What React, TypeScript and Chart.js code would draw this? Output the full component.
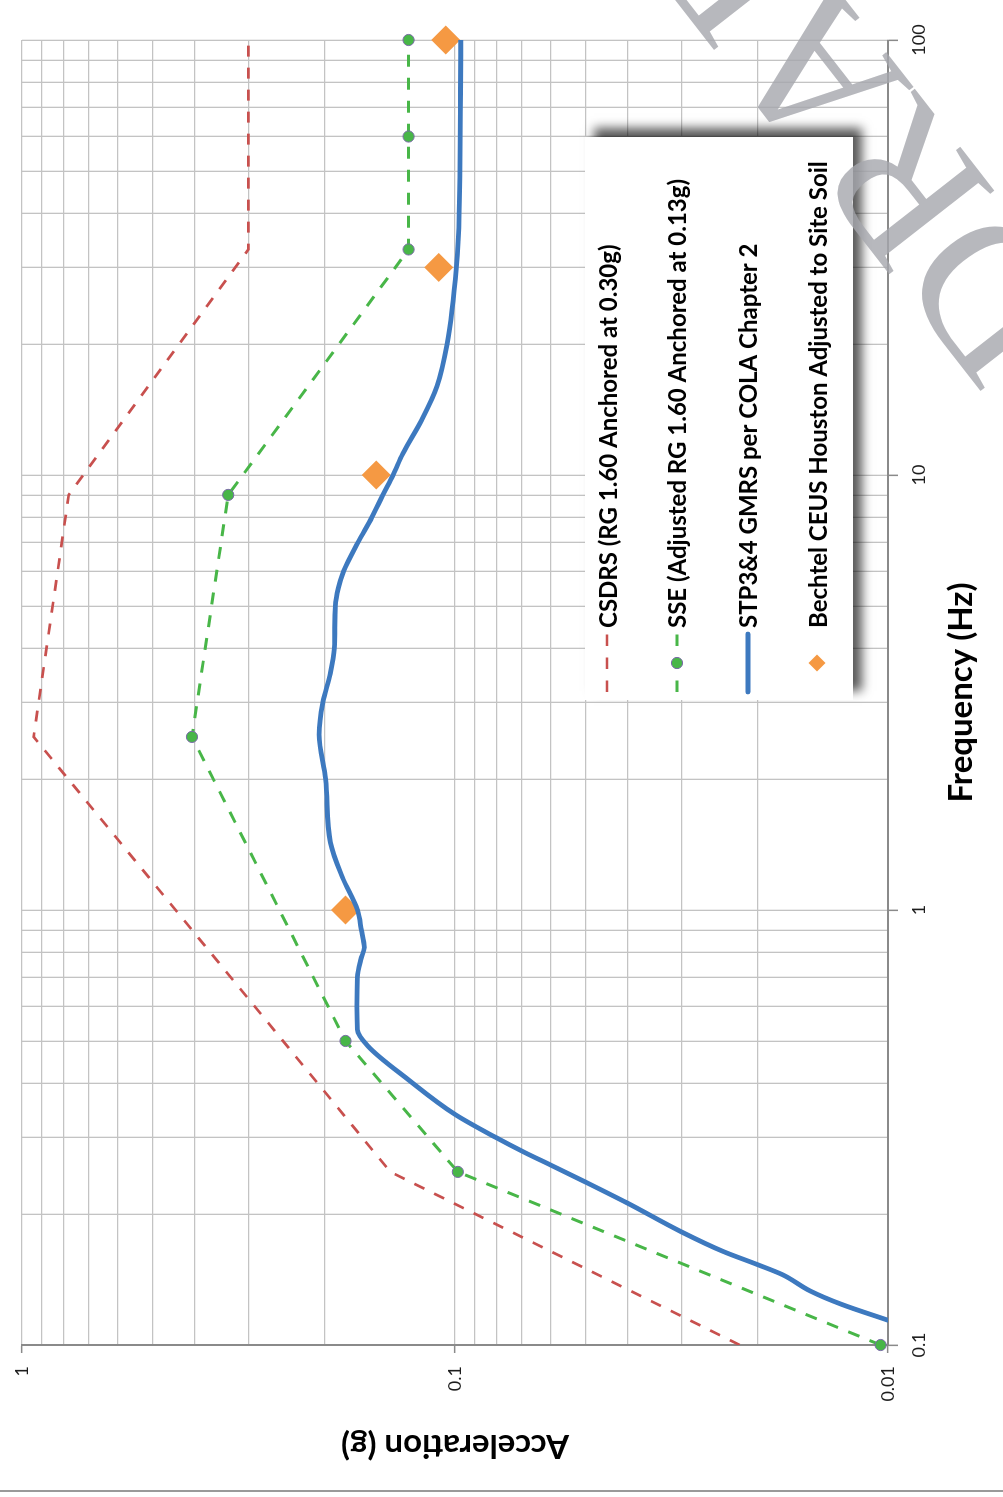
import React, { useEffect, useRef } from "react";
import { Chart, registerables } from "chart.js";

Chart.register(...registerables);

// ---------- data (frequency in Hz, acceleration in g) ----------
const csdrsFreq = [0.1, 0.25, 2.5, 9, 33, 100];
const csdrsAccel = [0.022, 0.141, 0.94, 0.78, 0.3, 0.3];

const sseFreq = [0.1, 0.25, 0.5, 2.5, 9, 33, 60, 100];
const sseAccel = [0.0104, 0.0985, 0.179, 0.405, 0.334, 0.128, 0.128, 0.128];

const gmrsFreq = [
  0.114, 0.124, 0.133, 0.145, 0.153, 0.164, 0.182, 0.212, 0.237, 0.259, 0.277,
  0.3, 0.339, 0.407, 0.487, 0.531, 0.6, 0.7, 0.77, 0.82, 0.9, 1.0, 1.19, 1.43,
  2.0, 2.53, 3.0, 3.5, 4.0, 5.0, 5.5, 6.0, 7.0, 8.0, 9.0, 10, 11.2, 13.4, 16,
  20, 30, 40, 100,
];
const gmrsAccel = [
  0.01, 0.0128, 0.0151, 0.0175, 0.02, 0.024, 0.03, 0.04, 0.05, 0.06, 0.069,
  0.0805, 0.1, 0.128, 0.159, 0.168, 0.1685, 0.168, 0.165, 0.162, 0.1645, 0.168,
  0.182, 0.194, 0.199, 0.206, 0.202, 0.194, 0.19, 0.189, 0.186, 0.181, 0.1675,
  0.1555, 0.1467, 0.139, 0.132, 0.1193, 0.11, 0.1043, 0.0993, 0.0978, 0.097,
];

const bechtelFreq = [1, 10, 30, 100];
const bechtelAccel = [0.179, 0.152, 0.109, 0.105];

const freqTickLabels = ["0.1", "1", "10", "100"];
const accelTickLabels = ["0.01", "0.1", "1"];

const seriesLabels = [
  "CSDRS (RG 1.60 Anchored at 0.30g)",
  "SSE (Adjusted RG 1.60 Anchored at 0.13g)",
  "STP3&4 GMRS per COLA Chapter 2",
  "Bechtel CEUS Houston Adjusted to Site Soil",
];
const xTitle = "Frequency (Hz)";
const yTitle = "Acceleration (g)";
const watermarkText = "DRAFT";

// ---------- helpers ----------
const toPoints = (xs: number[], ys: number[]) => xs.map((x, i) => ({ x, y: ys[i] }));

function logGridTicks(min: number, max: number) {
  const out: { value: number; major: boolean }[] = [];
  const e0 = Math.round(Math.log10(min));
  const e1 = Math.round(Math.log10(max));
  for (let e = e0; e < e1; e++) {
    for (let m = 1; m < 10; m++) {
      out.push({ value: +(m * Math.pow(10, e)).toPrecision(6), major: m === 1 });
    }
  }
  out.push({ value: max, major: true });
  return out;
}

const labelFor = (labels: string[]) => (value: any) => {
  const v = Number(value);
  const hit = labels.find((l) => Math.abs(Math.log10(parseFloat(l)) - Math.log10(v)) < 1e-6);
  return hit ?? "";
};

const FONT = "Lato, 'Open Sans', sans-serif";
const GRID = "#c3c3c3";
const AXIS = "#8a8a8a";

const RED = "#C8504E";
const GREEN = "#48B648";
const GREEN_EDGE = "#7a6aa8";
const BLUE = "#3D79BF";
const ORANGE = "#F59943";

const overlayPlugin = {
  id: "overlay",
  afterDraw(chart: any) {
    const ctx: CanvasRenderingContext2D = chart.ctx;
    const dpr = chart.currentDevicePixelRatio || 1;

    // legend box with shadow
    const bx = 797, by = 585, bw = 563, bh = 268;
    ctx.save();
    ctx.shadowColor = "rgba(0,0,0,0.65)";
    ctx.shadowBlur = 10 * dpr;
    ctx.shadowOffsetX = 9 * dpr;
    ctx.shadowOffsetY = 9 * dpr;
    ctx.fillStyle = "#ffffff";
    ctx.fillRect(bx, by, bw, bh);
    ctx.restore();

    const rows = [607, 677, 748, 817];
    const baselines = [617, 686, 757, 827];
    const sx0 = 805, sx1 = 863, tx = 869;
    chart.data.datasets.forEach((ds: any, i: number) => {
      const cy = rows[i];
      ctx.save();
      if (ds.showLine !== false) {
        ctx.beginPath();
        ctx.strokeStyle = ds.borderColor;
        ctx.lineWidth = ds.borderWidth;
        ctx.lineCap = ds.borderDash && ds.borderDash.length ? "butt" : "round";
        ctx.setLineDash(ds.borderDash && ds.borderDash.length ? [11.5, 11.5] : []);
        ctx.moveTo(sx0, cy);
        ctx.lineTo(sx1, cy);
        ctx.stroke();
        ctx.setLineDash([]);
      }
      if (ds.pointRadius > 0) {
        const r = ds.pointStyle === "rectRot" ? 8.5 : ds.pointRadius;
        const cx = (sx0 + sx1) / 2;
        ctx.beginPath();
        if (ds.pointStyle === "rectRot") {
          ctx.moveTo(cx - r, cy);
          ctx.lineTo(cx, cy - r);
          ctx.lineTo(cx + r, cy);
          ctx.lineTo(cx, cy + r);
          ctx.closePath();
        } else {
          ctx.arc(cx, cy, r, 0, Math.PI * 2);
        }
        ctx.fillStyle = ds.pointBackgroundColor;
        ctx.fill();
        if (ds.pointBorderWidth) {
          ctx.lineWidth = ds.pointBorderWidth;
          ctx.strokeStyle = ds.pointBorderColor;
          ctx.stroke();
        }
      }
      ctx.fillStyle = "#000";
      ctx.font = `bold 24px ${FONT}`;
      ctx.textBaseline = "alphabetic";
      ctx.textAlign = "left";
      ctx.fillText(ds.label, tx, baselines[i]);
      ctx.restore();
    });

    // page edge line
    ctx.save();
    ctx.strokeStyle = "#9a9a9a";
    ctx.lineWidth = 2;
    ctx.beginPath();
    ctx.moveTo(6, 0);
    ctx.lineTo(6, chart.height);
    ctx.stroke();
    ctx.restore();

    // watermark
    ctx.save();
    ctx.translate(1184, 1090);
    ctx.rotate((-38 * Math.PI) / 180);
    ctx.font = "205px 'Liberation Serif', serif";
    ctx.fillStyle = "rgba(165,166,172,0.8)";
    ctx.textBaseline = "alphabetic";
    ctx.textAlign = "left";
    ctx.fillText(watermarkText, 0, 0);
    ctx.restore();
  },
};

export default function App() {
  const ref = useRef<HTMLCanvasElement | null>(null);

  useEffect(() => {
    if (!ref.current) return;
    const tickColor = (c: any) => (c.tick && c.tick.major ? AXIS : "rgba(0,0,0,0)");

    const chart = new Chart(ref.current, {
      type: "line",
      data: {
        datasets: [
          {
            label: seriesLabels[0],
            data: toPoints(csdrsFreq, csdrsAccel),
            borderColor: RED,
            backgroundColor: RED,
            borderWidth: 2.7,
            borderDash: [11, 11],
            pointRadius: 0,
            tension: 0,
          },
          {
            label: seriesLabels[1],
            data: toPoints(sseFreq, sseAccel),
            borderColor: GREEN,
            backgroundColor: GREEN,
            borderWidth: 3,
            borderDash: [12, 11],
            pointRadius: 5.6,
            pointBackgroundColor: GREEN,
            pointBorderColor: GREEN_EDGE,
            pointBorderWidth: 1,
            tension: 0,
            clip: false,
          },
          {
            label: seriesLabels[2],
            data: toPoints(gmrsFreq, gmrsAccel),
            borderColor: BLUE,
            backgroundColor: BLUE,
            borderWidth: 4.8,
            pointRadius: 0,
            cubicInterpolationMode: "monotone",
            borderCapStyle: "round",
          },
          {
            label: seriesLabels[3],
            data: toPoints(bechtelFreq, bechtelAccel),
            showLine: false,
            borderColor: ORANGE,
            backgroundColor: ORANGE,
            pointStyle: "rectRot",
            pointRadius: 14.5,
            pointBackgroundColor: ORANGE,
            pointBorderColor: ORANGE,
            pointBorderWidth: 0,
            clip: false,
          },
        ] as any,
      },
      options: {
        responsive: false,
        animation: false,
        events: [],
        layout: { padding: { left: 0, top: 22, right: 40, bottom: 0 } },
        plugins: { legend: { display: false }, tooltip: { enabled: false } },
        scales: {
          x: {
            type: "logarithmic",
            position: "bottom",
            min: 0.1,
            max: 100,
            afterBuildTicks: (s: any) => {
              s.ticks = logGridTicks(0.1, 100);
            },
            afterFit: (s: any) => {
              s.height = 115;
              s.paddingLeft = 0;
              s.paddingRight = 0;
            },
            ticks: {
              autoSkip: false,
              maxRotation: 0,
              minRotation: 0,
              padding: 10,
              color: "#1e1e1e",
              font: { family: FONT, size: 18 },
              callback: labelFor(freqTickLabels),
            },
            grid: {
              color: GRID,
              lineWidth: 1.3,
              drawTicks: true,
              tickLength: 10,
              tickColor,
              tickWidth: 1.5,
            },
            border: { color: AXIS, width: 2 },
            title: {
              display: true,
              text: xTitle,
              color: "#000",
              font: { family: FONT, size: 33, weight: "bold" },
              padding: { top: 0, bottom: 22 },
            },
          },
          y: {
            type: "logarithmic",
            position: "left",
            min: 0.01,
            max: 1,
            afterBuildTicks: (s: any) => {
              s.ticks = logGridTicks(0.01, 1);
            },
            afterFit: (s: any) => {
              s.width = 152;
              s.paddingTop = 0;
              s.paddingBottom = 0;
            },
            ticks: {
              autoSkip: false,
              padding: 13,
              color: "#1e1e1e",
              font: { family: FONT, size: 18 },
              callback: labelFor(accelTickLabels),
            },
            grid: {
              color: GRID,
              lineWidth: 1.3,
              drawTicks: true,
              tickLength: 8,
              tickColor,
              tickWidth: 1.5,
            },
            border: { color: AXIS, width: 2 },
            title: {
              display: true,
              text: yTitle,
              color: "#000",
              font: { family: FONT, size: 33, weight: "bold" },
              padding: { top: 32, bottom: 0 },
            },
          },
        },
      } as any,
      plugins: [overlayPlugin as any],
    });
    return () => chart.destroy();
  }, []);

  return (
    <div
      style={{
        position: "absolute",
        left: 0,
        top: 0,
        width: 1003,
        height: 1497,
        overflow: "hidden",
        background: "#ffffff",
      }}
    >
      <div
        style={{
          position: "absolute",
          left: 0,
          top: 0,
          width: 1497,
          height: 1003,
          transformOrigin: "0 0",
          transform: "translateY(1497px) rotate(-90deg)",
        }}
      >
        <canvas
          ref={ref}
          width={1497}
          height={1003}
          style={{ display: "block", width: 1497, height: 1003 }}
        />
      </div>
    </div>
  );
}
